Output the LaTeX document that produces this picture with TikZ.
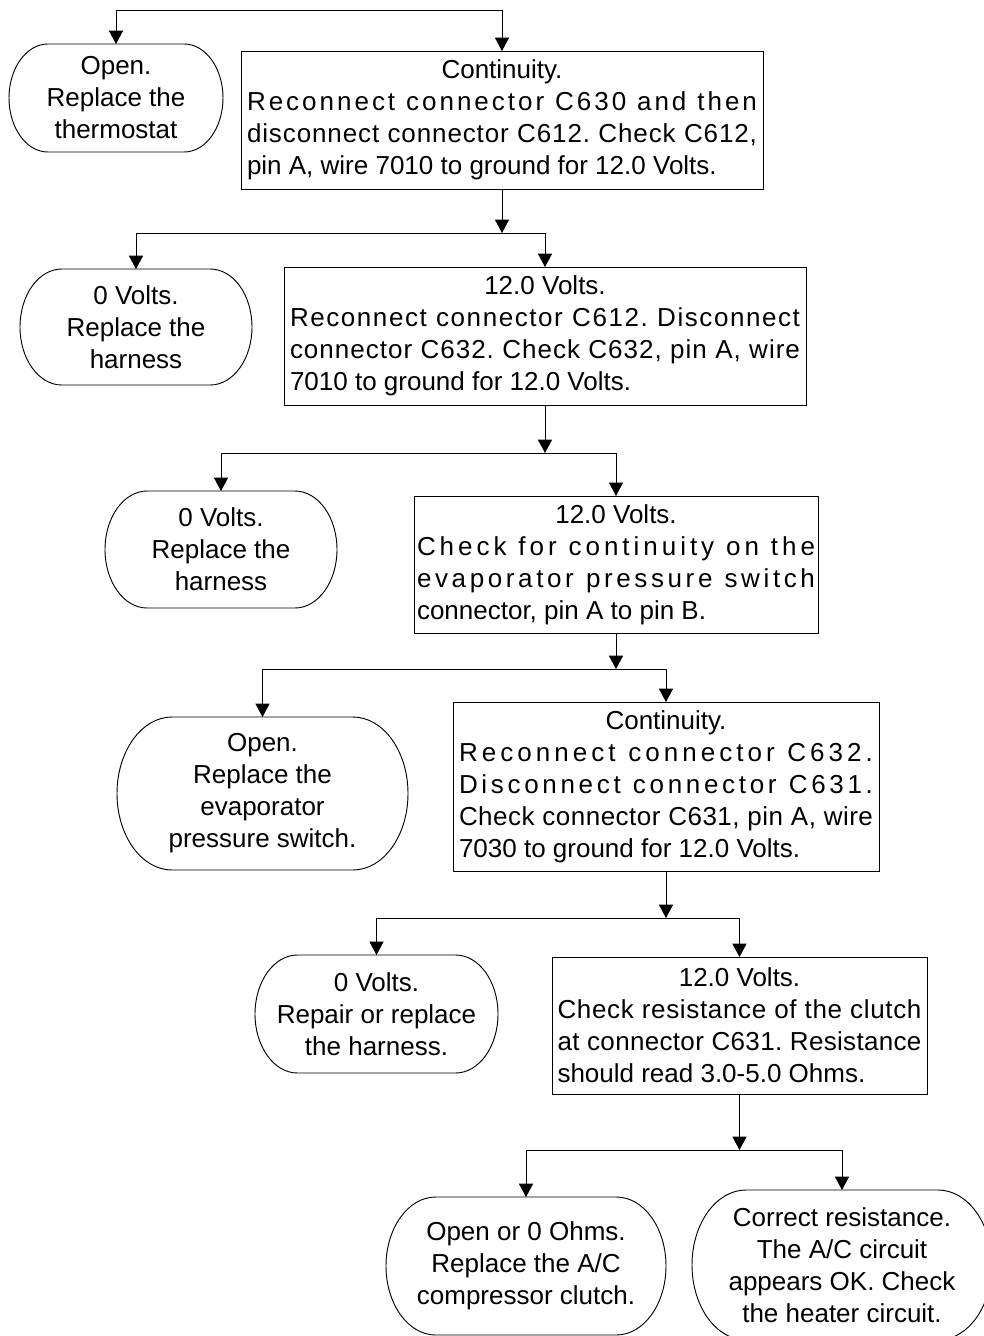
\documentclass[tikz,border=0pt]{standalone}
\usepackage{fontspec}
\setmainfont{Liberation Sans}
\usetikzlibrary{arrows.meta}
\frenchspacing
\newdimen\pxu \pxu=0.75pt
\newlength\lsA \newlength\lsB
% justified line: letters spread so that the line fills the width
\newcommand\lnS[2]{%
  \settowidth\lsA{#2}%
  \settowidth\lsB{\addfontfeature{LetterSpace=10}#2}%
  \pgfmathsetmacro\lsv{max(0,0.97*10*(#1*0.75-\lsA)/(\lsB-\lsA))}%
  \edef\lstmp{\noexpand\addfontfeature{LetterSpace=\lsv}}%
  \makebox[#1\pxu][s]{\lstmp#2}}
\newcommand\lnL[2]{\makebox[#1\pxu][l]{#2}}
\newcommand\lnC[2]{\makebox[#1\pxu][c]{#2}}
\newcommand\ovalnode[6]{%
  \node[ovl, minimum width=#4*0.75pt, minimum height=#5*0.75pt] (#1) at (#2,-#3) {#6};
  \pgfmathsetlengthmacro\ovrx{0.36*#5*0.75pt}%
  \pgfmathsetlengthmacro\ovry{0.5*#5*0.75pt}%
  \draw[ln] ([xshift=\ovrx]#1.north west) -- ([xshift=-\ovrx]#1.north east)
    arc[start angle=90,end angle=-90,x radius=\ovrx,y radius=\ovry]
    -- ([xshift=\ovrx]#1.south west)
    arc[start angle=270,end angle=90,x radius=\ovrx,y radius=\ovry] -- cycle;
}
\begin{document}
\begin{tikzpicture}[x=0.75pt,y=0.75pt,
  ln/.style={line width=0.7pt,black},
  arr/.style={ln,-{Triangle[length=10pt,width=10.5pt]}},
  txt/.style={font=\fontsize{19.5}{24}\selectfont},
  tbox/.style={txt,draw,line width=0.7pt,rectangle,inner sep=0pt,outer sep=0pt,align=center},
  ovl/.style={txt,inner sep=0pt,outer sep=0pt,align=center}]
\useasboundingbox[fill=white] (0,0) rectangle (983,-1336);

% ovals
\ovalnode{o1}{116}{98}{214}{108}{Open.\\Replace the\\thermostat}
\ovalnode{o2}{136}{327}{232}{116}{0 Volts.\\Replace the\\harness}
\ovalnode{o3}{221}{549.5}{232}{117}{0 Volts.\\Replace the\\harness}
\ovalnode{o4}{262.5}{793.5}{291}{153}{Open.\\Replace the\\evaporator\\pressure switch.}
\ovalnode{o5}{376.5}{1014}{243}{118}{0 Volts.\\Repair or replace\\the harness.}
\ovalnode{o6}{526}{1266}{280}{138}{Open or 0 Ohms.\\Replace the A/C\\compressor clutch.}
\ovalnode{o7}{842}{1265}{300}{150}{Correct resistance.\\The A/C circuit\\appears OK. Check\\the heater circuit.}

% boxes
\node[tbox,minimum width=522*0.75pt,minimum height=138*0.75pt] (b1) at (502,-120)
 {\lnC{510}{Continuity.}\\
  \lnS{510}{Reconnect connector C630 and then}\\
  \lnS{510}{disconnect connector C612. Check C612,}\\
  \lnL{510}{pin A, wire 7010 to ground for 12.0 Volts.}};
\node[tbox,minimum width=522*0.75pt,minimum height=138*0.75pt] (b2) at (545,-336)
 {\lnC{510}{12.0 Volts.}\\
  \lnS{510}{Reconnect connector C612. Disconnect}\\
  \lnS{510}{connector C632. Check C632, pin A, wire}\\
  \lnL{510}{7010 to ground for 12.0 Volts.}};
\node[tbox,minimum width=404*0.75pt,minimum height=137*0.75pt] (b3) at (616,-564.5)
 {\lnC{398}{12.0 Volts.}\\
  \lnS{398}{Check for continuity on the}\\
  \lnS{398}{evaporator pressure switch}\\
  \lnL{398}{connector, pin A to pin B.}};
\node[tbox,minimum width=426*0.75pt,minimum height=169*0.75pt] (b4) at (666,-786.5)
 {\lnC{414}{Continuity.}\\
  \lnS{414}{Reconnect connector C632.}\\
  \lnS{414}{Disconnect connector C631.}\\
  \lnS{414}{Check connector C631, pin A, wire}\\
  \lnL{414}{7030 to ground for 12.0 Volts.}};
\node[tbox,minimum width=375*0.75pt,minimum height=137*0.75pt] (b5) at (739.5,-1025.5)
 {\lnC{364}{12.0 Volts.}\\
  \lnS{364}{Check resistance of the clutch}\\
  \lnS{364}{at connector C631. Resistance}\\
  \lnL{364}{should read 3.0-5.0 Ohms.}};

% junctions
\coordinate (t0) at (502,-10);
\coordinate (j1) at (b1.south |- 0,-233);
\coordinate (j2) at (b2.south |- 0,-453);
\coordinate (j3) at (b3.south |- 0,-669);
\coordinate (j4) at (b4.south |- 0,-918);
\coordinate (j5) at (b5.south |- 0,-1150);

% connectors
\draw[arr] (t0) -| (o1.north);
\draw[arr] (t0) -- (b1.north);
\draw[arr] (b1.south) -- (j1);
\draw[arr] (j1) -| (o2.north);
\draw[arr] (j1) -| (b2.north);
\draw[arr] (b2.south) -- (j2);
\draw[arr] (j2) -| (o3.north);
\draw[arr] (j2) -| (b3.north);
\draw[arr] (b3.south) -- (j3);
\draw[arr] (j3) -| (o4.north);
\draw[arr] (j3) -| (b4.north);
\draw[arr] (b4.south) -- (j4);
\draw[arr] (j4) -| (o5.north);
\draw[arr] (j4) -| (b5.north);
\draw[arr] (b5.south) -- (j5);
\draw[arr] (j5) -| (o6.north);
\draw[arr] (j5) -| (o7.north);
\end{tikzpicture}
\end{document}
